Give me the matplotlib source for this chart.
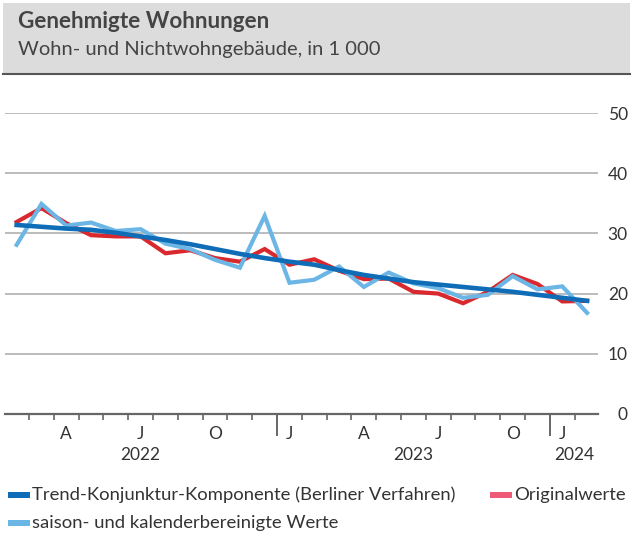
import matplotlib
matplotlib.use("Agg")
import matplotlib.pyplot as plt
from matplotlib.patches import Rectangle
from matplotlib.lines import Line2D

plt.rcParams['font.family'] = ['Lato', 'DejaVu Sans']

# Data: Feb 2022 .. Jan 2024 (index positions)
trend = [31.4, 31.1, 30.8, 30.6, 30.1, 29.5, 28.9, 28.2, 27.4, 26.6, 25.9, 25.3,
         24.8, 23.9, 23.1, 22.5, 21.9, 21.5, 21.1, 20.7, 20.3, 19.8, 19.3, 18.8]
original = [31.9, 34.2, 31.7, 29.7, 29.5, 29.5, 26.7, 27.2, 25.9, 25.3, 27.4, 24.8,
            25.7, 23.8, 22.4, 22.5, 20.3, 20.0, 18.4, 20.3, 23.1, 21.6, 18.7, 18.8]
adjusted = [28.1, 34.9, 31.3, 31.8, 30.4, 30.7, 28.3, 27.4, 25.6, 24.3, 32.9, 21.8,
            22.3, 24.5, 21.1, 23.5, 21.7, 20.9, 19.3, 19.8, 22.9, 20.7, 21.2, 16.8]
x = list(range(len(trend)))

month_label_pos = [2, 5, 8, 11, 14, 17, 20, 22]
month_labels = ['A', 'J', 'O', 'J', 'A', 'J', 'O', 'J']
year_label_pos = [5, 16, 22.5]
year_labels = ['2022', '2023', '2024']
year_tick_pos = [10.5, 21.5]
yticks = [0, 10, 20, 30, 40, 50]

title = 'Genehmigte Wohnungen'
subtitle = 'Wohn- und Nichtwohngebäude, in 1 000'
leg_trend = 'Trend-Konjunktur-Komponente (Berliner Verfahren)'
leg_orig = 'Originalwerte'
leg_adj = 'saison- und kalenderbereinigte Werte'

c_trend = '#0f6cb6'
c_orig = '#d9282e'
c_orig_leg = '#ee5a78'
c_adj = '#6cb6e6'
txt = '#333333'

W, H = 633, 540
fig = plt.figure(figsize=(W / 100, H / 100), dpi=100)

# header box
fig.add_artist(Rectangle((3 / W, 1 - 74 / H), 627 / W, 71 / H, transform=fig.transFigure,
                         facecolor='#dcdcdc', edgecolor='none', zorder=0))
fig.add_artist(Line2D([3 / W, 630 / W], [1 - 74 / H, 1 - 74 / H], transform=fig.transFigure,
                      color='#555555', lw=1.5))
fig.text(18 / W, 1 - 22 / H, title, fontsize=16.2, fontweight='bold', color='#444444',
         va='center', ha='left')
fig.text(18 / W, 1 - 49 / H, subtitle, fontsize=14.5, color='#444444', va='center', ha='left')

ax = fig.add_axes([5 / W, 1 - 414 / H, 593 / W, 301 / H])
ax.set_xlim(-0.47, 23.44)
ax.set_ylim(0, 50)

ax.plot(x, original, color=c_orig, lw=3.0, zorder=3, solid_joinstyle='miter')
ax.plot(x, adjusted, color=c_adj, lw=3.0, zorder=4, solid_joinstyle='miter')
ax.plot(x, trend, color=c_trend, lw=3.3, zorder=5)

for s in ['top', 'left', 'right']:
    ax.spines[s].set_visible(False)
ax.spines['bottom'].set_color('#666666')
ax.spines['bottom'].set_linewidth(1.6)
ax.spines['bottom'].set_zorder(6)

ax.set_yticks(yticks)
ax.yaxis.tick_right()
ax.tick_params(axis='y', length=0, pad=21.5, labelsize=12.5, labelcolor=txt)
for lbl in ax.get_yticklabels():
    lbl.set_ha('right')
ax.grid(axis='y', color='#aaaaaa', lw=1.1, zorder=1)
ax.set_axisbelow(True)

month_ticks = [i + 0.5 for i in range(23) if (i + 0.5) not in year_tick_pos]
ax.set_xticks(year_tick_pos)
ax.set_xticks(month_ticks, minor=True)
ax.set_xticklabels([])
ax.tick_params(axis='x', which='major', length=16, width=1.4, color='#666666', direction='out')
ax.tick_params(axis='x', which='minor', length=4.5, width=1.2, color='#666666', direction='out')

for p, l in zip(month_label_pos, month_labels):
    ax.annotate(l, xy=(p, 0), xycoords=('data', 'axes fraction'), xytext=(0, -14.5),
                textcoords='offset points', ha='center', va='center', fontsize=12.5, color=txt)
for p, l in zip(year_label_pos, year_labels):
    ax.annotate(l, xy=(p, 0), xycoords=('data', 'axes fraction'), xytext=(0, -29.5),
                textcoords='offset points', ha='center', va='center', fontsize=12.5, color=txt)

# legend
def leg_item(x0, yc, color, label):
    fig.add_artist(Rectangle((x0 / W, 1 - (yc + 3) / H), 22 / W, 6 / H, transform=fig.transFigure,
                             facecolor=color, edgecolor='none'))
    fig.text((x0 + 24) / W, 1 - yc / H, label, fontsize=13.3, color=txt, va='center', ha='left')

leg_item(8, 495, c_trend, leg_trend)
leg_item(490, 495, c_orig_leg, leg_orig)
leg_item(8, 523, c_adj, leg_adj)

fig.savefig('out.png', dpi=100)
